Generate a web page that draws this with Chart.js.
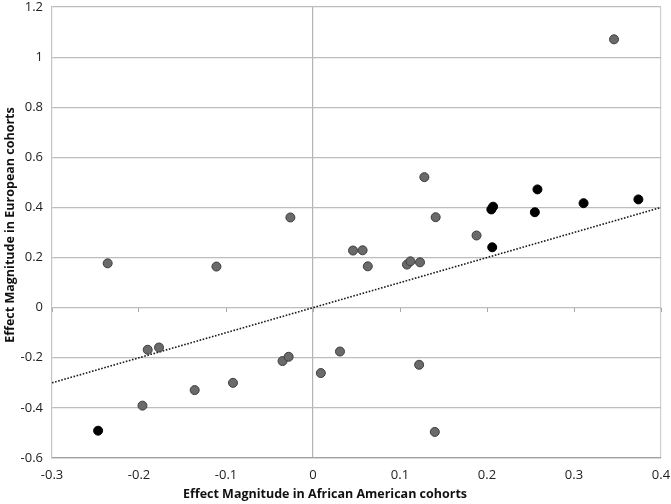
<!DOCTYPE html>
<html><head><meta charset="utf-8">
<script src="https://cdn.jsdelivr.net/npm/chart.js@4"></script>
<style>html,body{margin:0;padding:0;background:#fff}#wrap{width:671px;height:504px}</style>
</head><body><div id="wrap"><canvas id="c" width="671" height="504"></canvas></div>
<script>
const xTicks = [-0.3,-0.2,-0.1,0,0.1,0.2,0.3,0.4];
const yTicks = [-0.6,-0.4,-0.2,0,0.2,0.4,0.6,0.8,1,1.2];
const greyX = [0.346,0.128,0.141,0.188,0.046,0.057,0.063,0.108,0.112,0.123,0.031,0.122,0.140,-0.026,-0.236,-0.111,-0.190,-0.177,-0.035,-0.028,0.009,-0.136,-0.092,-0.196];
const greyY = [1.071,0.521,0.361,0.288,0.228,0.229,0.165,0.172,0.185,0.181,-0.175,-0.228,-0.496,0.360,0.177,0.164,-0.168,-0.159,-0.213,-0.196,-0.261,-0.329,-0.300,-0.391];
const blackX = [0.258,0.311,0.374,0.207,0.205,0.255,0.206,-0.247];
const blackY = [0.472,0.417,0.432,0.403,0.392,0.381,0.241,-0.491];
const refX = [-0.3,0.4];
const refY = [-0.3,0.4];
const xTitle = 'Effect Magnitude in African American cohorts';
const yTitle = 'Effect Magnitude in European cohorts';

const toPts = (xs, ys) => xs.map((x,i)=>({x:x,y:ys[i]}));
const font = "'Open Sans', 'DejaVu Sans', sans-serif";

const axisTitles = {
  id:'axisTitles',
  afterDraw(chart){
    const ctx = chart.ctx;
    ctx.save();
    ctx.fillStyle = '#111';
    ctx.font = "bold 12.5px " + font;
    ctx.textAlign = 'center';
    ctx.textBaseline = 'middle';
    ctx.fillText(xTitle, 325, 494);
    ctx.translate(10, 225);
    ctx.rotate(-Math.PI/2);
    ctx.fillText(yTitle, 0, 0);
    ctx.restore();
  }
};

new Chart(document.getElementById('c'), {
  type: 'scatter',
  plugins:[axisTitles],
  data: { datasets: [
    { label:'ref', type:'line', data: toPts(refX, refY), borderColor:'#1a1a1a', borderWidth:1.6, borderDash:[1.6,1.6], pointRadius:0, fill:false, order:3 },
    { label:'grey', data: toPts(greyX, greyY), backgroundColor:'#6a6a6a', borderColor:'#3d3d3d', borderWidth:1, pointRadius:4.5, order:2 },
    { label:'black', data: toPts(blackX, blackY), backgroundColor:'#000', borderColor:'#000', borderWidth:1, pointRadius:4.5, order:1 }
  ]},
  options: {
    responsive:false, animation:false, devicePixelRatio:1,
    layout:{ padding:{ top:7, right:10, left:0, bottom:0 } },
    plugins:{ legend:{display:false}, tooltip:{enabled:false} },
    scales:{
      x:{ type:'linear', min:-0.3, max:0.4, position:'bottom',
        afterBuildTicks:(s)=>{ s.ticks = xTicks.map(v=>({value:v})); },
        afterFit:(s)=>{ s.height = 46; s.paddingLeft = 0; s.paddingRight = 0; },
        grid:{ color:(ctx)=> (ctx.tick && Math.abs(ctx.tick.value)<1e-9) ? '#b4b4b4' : (ctx.tick && Math.abs(ctx.tick.value-0.4)<1e-9 ? '#cfcfcf' : 'rgba(0,0,0,0)'), lineWidth:1.2, drawTicks:false },
        border:{ display:true, color:'#a0a0a0', width:1.2 },
        ticks:{ padding:9, color:'#222', font:{family:font, size:13}, callback:(v)=>String(Math.round(v*10)/10) }
      },
      x2:{ type:'linear', min:-0.3, max:0.4, position:{y:0}, display:true,
        afterBuildTicks:(s)=>{ s.ticks = xTicks.map(v=>({value:v})); },
        afterFit:(s)=>{ s.paddingLeft = 0; s.paddingRight = 0; },
        grid:{ drawOnChartArea:false, drawTicks:true, tickLength:4, color:'#a8a8a8' },
        border:{ display:false },
        ticks:{ display:false }
      },
      y:{ type:'linear', min:-0.6, max:1.2,
        afterBuildTicks:(s)=>{ s.ticks = yTicks.map(v=>({value:v})); },
        afterFit:(s)=>{ s.width = 52; s.paddingTop = 0; s.paddingBottom = 0; },
        grid:{ color:'#bdbdbd', lineWidth:1.2, drawTicks:false },
        border:{ display:true, color:'#c4c4c4', width:1.2 },
        ticks:{ padding:9, color:'#222', font:{family:font, size:13}, callback:(v)=>String(Math.round(v*10)/10) }
      }
    }
  }
});
</script></body></html>
